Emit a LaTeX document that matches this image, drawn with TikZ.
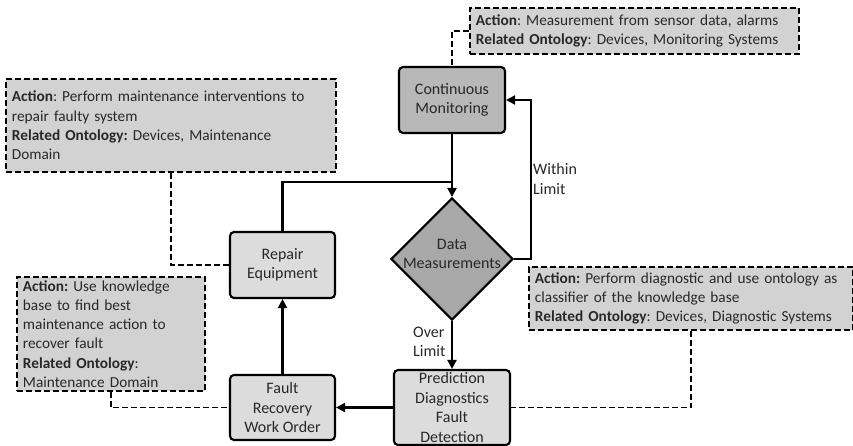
\documentclass[tikz,border=0pt]{standalone}
\usepackage{fontspec}
\setmainfont{Carlito}
\usetikzlibrary{positioning,shapes.geometric,arrows.meta}
\definecolor{stepdark}{RGB}{184,184,184}
\definecolor{decidegray}{RGB}{168,168,168}
\definecolor{steplight}{RGB}{220,220,220}
\definecolor{notegray}{RGB}{210,210,210}
\definecolor{inkgray}{RGB}{40,40,40}
\frenchspacing

\begin{document}
\begin{tikzpicture}[x=1pt,y=-1pt,
	% boxes of the flow
	stepbox/.style={
		draw=black,
		fill=steplight,
		text=inkgray,
		line width=2.1pt,
		rounded corners=4pt,
		minimum width=105pt,
		minimum height=66pt,
		inner sep=1pt,
		align=center,
		font=\fontsize{16}{19.4}\selectfont
	},
	decision/.style={
		diamond, aspect=1,
		draw=black,
		fill=decidegray,
		line width=2.1pt,
		inner sep=0pt,
		minimum width=122pt,
		minimum height=122pt
	},
	% dashed notes beside the flow
	note/.style={
		draw=black,
		dash pattern=on 6pt off 3pt,
		fill=notegray,
		text=inkgray,
		line width=1.9pt,
		anchor=north west,
		inner xsep=6pt,
		inner ysep=0pt,
		align=left,
		font=\fontsize{15.3}{19.3}\selectfont
	},
	link/.style={line width=2.1pt, -{Triangle[length=9pt,width=9pt]}},
	plain/.style={line width=2.1pt},
	noteline/.style={line width=1.9pt, dash pattern=on 6pt off 3pt},
	tag/.style={align=left, inner sep=0pt, text=inkgray, font=\fontsize{16}{19.4}\selectfont}
	]
	\useasboundingbox (0,0) rectangle (853,446);

	% the flow itself
	\node[stepbox, fill=stepdark, minimum width=106pt] (cm) at (452,100) {Continuous\\Monitoring};
	\node[decision, label={[tag, align=center, yshift=5pt]center:{Data\\Measurements}}] (dm) at (452,259) {};
	\node[stepbox, minimum width=116pt, minimum height=75pt, inner ysep=0pt] (pd) at (452,407.5) {Prediction\\Diagnostics\\Fault\\Detection};
	\node[stepbox, minimum height=65pt] (fr) at (282.5,407.5) {Fault\\Recovery\\Work Order};
	\node[stepbox] (rep) at (282.5,265) {Repair\\Equipment};

	% notes
	\node[note, minimum width=329pt, minimum height=46pt, text width=317pt] (mnote) at (469,7)
		{\textbf{Action}: Measurement from sensor data, alarms\\\textbf{Related Ontology}: Devices, Monitoring Systems};
	\node[note, minimum width=330pt, minimum height=93pt, text width=318pt] (rnote) at (5,78)
		{\textbf{Action}: Perform maintenance interventions to\\repair faulty system\\\textbf{Related Ontology:} Devices, Maintenance\\Domain};
	\node[note, minimum width=188pt, minimum height=114pt, text width=176pt] (lnote) at (16,276)
		{\textbf{Action:} Use knowledge\\base to find best\\maintenance action to\\recover fault\\\textbf{Related Ontology}:\\Maintenance Domain};
	\node[note, minimum width=324pt, minimum height=63pt, text width=312pt] (dnote) at (528,266)
		{\textbf{Action:} Perform diagnostic and use ontology as\\classifier of the knowledge base\\\textbf{Related Ontology}: Devices, Diagnostic Systems};

	% branch labels
	\node[tag, anchor=west] (within) at (533,179) {Within\\Limit};
	\node[tag, anchor=west] (over) at (413,342) {Over\\Limit};

	% connectors
	\coordinate (join) at (452,182);
	\draw[link] (cm.south) -- (dm.north);
	\draw[plain] (rep.north) |- (join);
	\draw[link] (dm.east) -- ++(17,0) |- (cm.east);
	\draw[link] (dm.south) -- (pd.north);
	\draw[link] (pd.west) -- (fr.east);
	\draw[link] (fr.north) -- (rep.south);

	\draw[noteline] (mnote.west) -| (cm.north);
	\draw[noteline] (rnote.south) |- (rep.west);
	\draw[noteline] (lnote.south) |- (fr.west);
	\draw[noteline] (dnote.south) |- (pd.east);
\end{tikzpicture}
\end{document}
